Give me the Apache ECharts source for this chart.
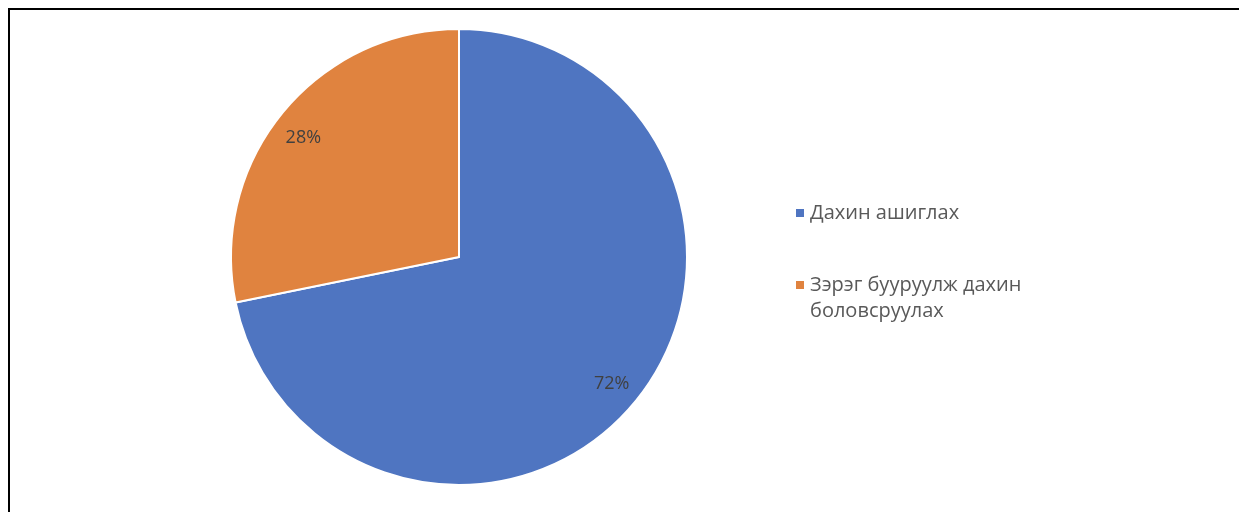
<!DOCTYPE html>
<html>
<head>
<meta charset="utf-8">
<script src="https://cdn.jsdelivr.net/npm/echarts@6/dist/echarts.min.js"></script>
<style>
  html, body { margin: 0; padding: 0; background: #fff; }
  #frame {
    position: absolute; left: 8px; top: 8px; width: 1240px; height: 520px;
    border-top: 2px solid #000; border-left: 2px solid #000;
  }
  #chart { position: absolute; left: 0; top: 0; width: 1239px; height: 512px; }
</style>
</head>
<body>
<div id="frame"></div>
<div id="chart"></div>
<script>
const categories = ['Дахин ашиглах', 'Зэрэг бууруулж дахин боловсруулах'];
const values = [71.8, 28.2];
const colors = ['#4F75C1', '#E0833F'];

const chart = echarts.init(document.getElementById('chart'), null, { renderer: 'canvas' });

const pieData = categories.map((name, i) => ({
  name: name,
  value: values[i],
  itemStyle: { color: colors[i] }
}));

const legendText = {
  fontFamily: 'Open Sans',
  fontSize: 20,
  color: '#595959',
  lineHeight: 26
};

const option = {
  animation: false,
  legend: [
    {
      orient: 'vertical',
      left: 794,
      top: 200,
      padding: 0,
      itemWidth: 10,
      itemHeight: 10,
      icon: 'rect',
      data: [categories[0]],
      textStyle: legendText
    },
    {
      // wrapped label; leading blank line keeps the icon level with the first line
      orient: 'vertical',
      left: 794,
      top: 246,
      padding: 0,
      itemWidth: 10,
      itemHeight: 10,
      icon: 'rect',
      data: [categories[1]],
      formatter: () => ' \nЗэрэг бууруулж дахин\nболовсруулах',
      textStyle: legendText
    }
  ],
  series: [
    {
      type: 'pie',
      center: [459, 257],
      radius: [0, 228],
      startAngle: 90,
      clockwise: true,
      label: { show: false },
      labelLine: { show: false },
      itemStyle: { borderColor: '#fff', borderWidth: 2 },
      emphasis: { disabled: true },
      data: pieData
    },
    {
      // label-only ring so the percentages sit near the outer edge
      type: 'pie',
      center: [459, 257],
      radius: [168, 228],
      startAngle: 90,
      clockwise: true,
      silent: true,
      percentPrecision: 0,
      itemStyle: { color: 'rgba(0,0,0,0)' },
      label: {
        show: true,
        position: 'inside',
        formatter: '{d}%',
        fontFamily: 'Open Sans',
        fontSize: 18,
        lineHeight: 16,
        color: '#404040'
      },
      labelLine: { show: false },
      emphasis: { disabled: true },
      data: categories.map((name, i) => ({
        name: name,
        value: values[i],
        label: i === 1 ? { formatter: ' \n{d}%' } : { padding: [0, 6, 4, 0] }
      }))
    }
  ]
};

chart.setOption(option);
</script>
</body>
</html>
